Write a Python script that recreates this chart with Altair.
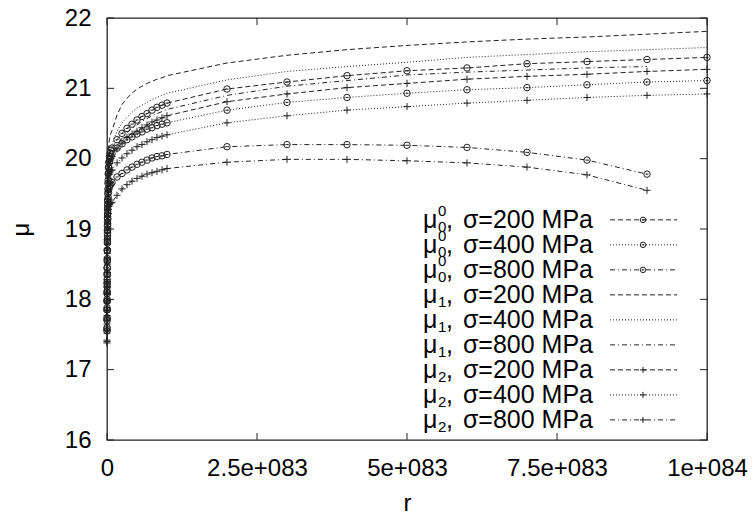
import altair as alt
import pandas as pd

# r values (axis shows r in units of 1e83)
x_tiny = [0.0, 0.0005, 0.001, 0.0015, 0.002, 0.0025, 0.003, 0.0035, 0.004, 0.005, 0.006, 0.007,
          0.008, 0.009, 0.010, 0.0115, 0.013, 0.016, 0.02, 0.025, 0.03, 0.04, 0.05, 0.065]
x_near = [0.083, 0.167, 0.25, 0.333, 0.417, 0.5, 0.583, 0.667, 0.75, 0.833, 0.917, 1.0]
x_far = [2, 3, 4, 5, 6, 7, 8, 9, 10]
x_far9 = [2, 3, 4, 5, 6, 7, 8, 9]

mu0_200 = [17.55, 17.70, 17.85, 17.98, 18.10, 18.22, 18.35, 18.45, 18.55, 18.70, 18.85, 18.98,
           19.10, 19.20, 19.30, 19.40, 19.50, 19.65, 19.78, 19.88, 19.95, 20.03, 20.08, 20.12,
           20.15, 20.27, 20.36, 20.43, 20.49, 20.55, 20.60, 20.64, 20.69, 20.73, 20.76, 20.79,
           20.99, 21.09, 21.18, 21.25, 21.29, 21.35, 21.38, 21.41, 21.44]
mu0_400 = [17.60, 17.74, 17.88, 18.00, 18.12, 18.24, 18.35, 18.45, 18.55, 18.69, 18.82, 18.94,
           19.05, 19.15, 19.25, 19.34, 19.42, 19.57, 19.70, 19.80, 19.87, 19.95, 20.00, 20.03,
           20.07, 20.15, 20.21, 20.27, 20.31, 20.35, 20.38, 20.42, 20.44, 20.47, 20.49, 20.51,
           20.69, 20.80, 20.87, 20.93, 20.98, 21.01, 21.05, 21.09, 21.11]
mu0_800 = [17.58, 17.72, 17.85, 17.97, 18.08, 18.18, 18.28, 18.37, 18.45, 18.58, 18.70, 18.80,
           18.90, 18.99, 19.07, 19.15, 19.22, 19.35, 19.45, 19.52, 19.56, 19.60, 19.62, 19.64,
           19.66, 19.74, 19.79, 19.84, 19.88, 19.92, 19.95, 19.98, 20.01, 20.03, 20.04, 20.06,
           20.17, 20.20, 20.20, 20.19, 20.16, 20.09, 19.98, 19.78]
mu1_200 = [17.50, 17.70, 17.90, 18.08, 18.25, 18.40, 18.55, 18.68, 18.80, 18.98, 19.15, 19.30,
           19.45, 19.55, 19.65, 19.75, 19.85, 19.98, 20.08, 20.15, 20.20, 20.27, 20.32, 20.36,
           20.40, 20.62, 20.77, 20.86, 20.93, 20.99, 21.03, 21.07, 21.10, 21.13, 21.15, 21.18,
           21.36, 21.47, 21.55, 21.61, 21.66, 21.70, 21.73, 21.77, 21.81]
mu1_400 = [17.52, 17.70, 17.88, 18.03, 18.18, 18.32, 18.45, 18.57, 18.68, 18.84, 19.00, 19.13,
           19.25, 19.35, 19.45, 19.54, 19.62, 19.75, 19.86, 19.95, 20.01, 20.08, 20.13, 20.17,
           20.20, 20.39, 20.51, 20.59, 20.66, 20.72, 20.76, 20.80, 20.84, 20.87, 20.90, 20.93,
           21.12, 21.24, 21.31, 21.37, 21.44, 21.48, 21.52, 21.55, 21.58]
mu1_800 = [17.55, 17.72, 17.88, 18.02, 18.15, 18.28, 18.40, 18.50, 18.60, 18.75, 18.90, 19.03,
           19.15, 19.25, 19.35, 19.44, 19.52, 19.66, 19.78, 19.87, 19.93, 19.98, 20.01, 20.03,
           20.05, 20.19, 20.29, 20.37, 20.43, 20.48, 20.53, 20.57, 20.61, 20.64, 20.67, 20.70,
           20.90, 21.03, 21.11, 21.19, 21.23, 21.26, 21.29, 21.31]
mu2_200 = [17.40, 17.56, 17.72, 17.85, 17.98, 18.10, 18.22, 18.32, 18.42, 18.57, 18.72, 18.85,
           18.98, 19.08, 19.18, 19.28, 19.38, 19.53, 19.67, 19.78, 19.85, 19.93, 19.97, 20.00,
           20.03, 20.14, 20.22, 20.30, 20.35, 20.39, 20.44, 20.48, 20.52, 20.55, 20.58, 20.61,
           20.81, 20.92, 21.01, 21.07, 21.13, 21.17, 21.20, 21.24, 21.27]
mu2_400 = [17.42, 17.56, 17.70, 17.83, 17.95, 18.07, 18.18, 18.28, 18.38, 18.52, 18.65, 18.78,
           18.90, 18.99, 19.08, 19.18, 19.27, 19.42, 19.55, 19.65, 19.72, 19.78, 19.81, 19.83,
           19.84, 19.94, 20.01, 20.07, 20.12, 20.17, 20.20, 20.24, 20.27, 20.30, 20.32, 20.34,
           20.51, 20.61, 20.69, 20.74, 20.79, 20.83, 20.87, 20.90, 20.92]
mu2_800 = [17.38, 17.52, 17.65, 17.77, 17.88, 17.98, 18.08, 18.17, 18.25, 18.38, 18.50, 18.60,
           18.70, 18.79, 18.87, 18.95, 19.02, 19.13, 19.22, 19.28, 19.32, 19.35, 19.36, 19.37,
           19.38, 19.48, 19.57, 19.63, 19.68, 19.72, 19.75, 19.78, 19.80, 19.82, 19.84, 19.86,
           19.95, 19.99, 19.99, 19.97, 19.94, 19.88, 19.77, 19.55]

series_names = ["mu0_200", "mu0_400", "mu0_800", "mu1_200", "mu1_400", "mu1_800", "mu2_200", "mu2_400", "mu2_800"]
series_vals = [mu0_200, mu0_400, mu0_800, mu1_200, mu1_400, mu1_800, mu2_200, mu2_400, mu2_800]
series_marker = ["circle", "circle", "circle", "none", "none", "none", "plus", "plus", "plus"]
leg_sup = ["0", "0", "0", "", "", "", "", "", ""]
leg_sub = ["0", "0", "0", "1", "1", "1", "2", "2", "2"]
leg_rest = ["σ=200 MPa", "σ=400 MPa", "σ=800 MPa"] * 3

x_tick_vals = [0, 2.5, 5, 7.5, 10]
x_tick_labels = ["0", "2.5e+083", "5e+083", "7.5e+083", "1e+084"]
y_tick_vals = [16, 17, 18, 19, 20, 21, 22]

# styles
dash_200 = [5, 3]
dash_400 = [1, 2]
dash_800 = [5, 3, 1, 3]
dash_list = [dash_200, dash_400, dash_800] * 3
FONT = "Liberation Sans"
INK = "#222222"
PLUS = "M-1,0L1,0M0,-1L0,1"
BAR = "M-1,0L1,0"

rows = []
for name, vals, mk in zip(series_names, series_vals, series_marker):
    xs = x_tiny + x_near + (x_far if len(vals) == len(x_tiny) + len(x_near) + len(x_far) else x_far9)
    for xv, yv in zip(xs, vals):
        rows.append({"series": name, "x": xv, "y": yv, "mk": mk})
df = pd.DataFrame(rows)

# legend rows (y expressed on the mu scale)
leg_y = [19.13 - 0.3555 * i for i in range(9)]
df_leg = pd.DataFrame({"series": series_names, "ly": leg_y, "sup": leg_sup, "sub": leg_sub,
                       "rest": leg_rest, "mk": series_marker})

label_expr = " : ".join(f"datum.value == {v} ? '{l}'" for v, l in zip(x_tick_vals, x_tick_labels)) + " : ''"

xscale = alt.Scale(domain=[0, 10], nice=False, zero=False)
yscale = alt.Scale(domain=[16, 22], nice=False, zero=False)
dash_scale = alt.Scale(domain=series_names, range=dash_list)

AFS = 24
x_axis = alt.Axis(values=x_tick_vals, labelExpr=label_expr, ticks=False, domain=False, grid=False,
                  labelFont=FONT, labelFontSize=AFS, labelColor="black", labelPadding=35,
                  labelBaseline="alphabetic", labelOverlap=False, labelFlush=False, labelBound=False,
                  title="r", titleFont=FONT, titleFontSize=AFS, titleFontWeight="normal", titleColor="black",
                  titleX=300, titleY=70, titleBaseline="alphabetic", titleAlign="center")
y_axis = alt.Axis(values=y_tick_vals, ticks=False, domain=False, grid=False,
                  labelFont=FONT, labelFontSize=AFS, labelColor="black", labelPadding=16,
                  labelOverlap=False, labelBound=False, labelFlush=False,
                  title="μ", titleFont=FONT, titleFontSize=AFS, titleFontWeight="normal", titleColor="black",
                  titleX=-79, titleY=211, titleBaseline="alphabetic", titleAlign="center", titleAngle=270)


def X(f):
    return alt.X(f, scale=xscale, axis=x_axis)


def Y(f):
    return alt.Y(f, scale=yscale, axis=y_axis)


lines = alt.Chart(df).mark_line(strokeWidth=1, color=INK).encode(
    x=X("x:Q"), y=Y("y:Q"),
    strokeDash=alt.StrokeDash("series:N", scale=dash_scale, legend=None),
    detail="series:N",
)
circ = alt.Chart(df).transform_filter("datum.mk == 'circle'").mark_point(
    shape="circle", filled=False, size=42, strokeWidth=1, color=INK, opacity=1).encode(x=X("x:Q"), y=Y("y:Q"))
bars = alt.Chart(df).transform_filter("datum.mk == 'circle'").mark_point(
    shape=BAR, filled=False, size=9, strokeWidth=1, color=INK, opacity=1).encode(x=X("x:Q"), y=Y("y:Q"))
plus = alt.Chart(df).transform_filter("datum.mk == 'plus'").mark_point(
    shape=PLUS, filled=False, size=50, strokeWidth=1, color=INK, opacity=1).encode(x=X("x:Q"), y=Y("y:Q"))

# inward ticks (gnuplot style), mirrored on all four sides
dfx = pd.DataFrame({"x": x_tick_vals})
dfy = pd.DataFrame({"y": y_tick_vals})
tick_style = dict(color=INK, strokeWidth=1)
tb = alt.Chart(dfx).mark_rule(**tick_style).encode(x=X("x:Q"), y=alt.value(422), y2=alt.value(415))
tt = alt.Chart(dfx).mark_rule(**tick_style).encode(x=X("x:Q"), y=alt.value(0), y2=alt.value(7))
tl = alt.Chart(dfy).mark_rule(**tick_style).encode(y=Y("y:Q"), x=alt.value(0), x2=alt.value(7))
tr = alt.Chart(dfy).mark_rule(**tick_style).encode(y=Y("y:Q"), x=alt.value(600), x2=alt.value(593))

# legend
LFS = 25
leg_line = alt.Chart(df_leg).mark_rule(strokeWidth=1, color=INK).encode(
    x=alt.value(503), x2=alt.value(570), y=Y("ly:Q"),
    strokeDash=alt.StrokeDash("series:N", scale=dash_scale, legend=None))
leg_circ = alt.Chart(df_leg).transform_filter("datum.mk == 'circle'").mark_point(
    shape="circle", filled=False, size=30, strokeWidth=1, color=INK, opacity=1).encode(
    x=alt.value(536), y=Y("ly:Q"))
leg_bar = alt.Chart(df_leg).transform_filter("datum.mk == 'circle'").mark_point(
    shape=BAR, filled=False, size=6, strokeWidth=1, color=INK, opacity=1).encode(
    x=alt.value(536), y=Y("ly:Q"))
leg_plus = alt.Chart(df_leg).transform_filter("datum.mk == 'plus'").mark_point(
    shape=PLUS, filled=False, size=36, strokeWidth=1, color=INK, opacity=1).encode(
    x=alt.value(536), y=Y("ly:Q"))
leg_mu = alt.Chart(df_leg).mark_text(align="left", baseline="middle", font=FONT, fontSize=LFS, color="black").encode(
    x=alt.value(316), y=Y("ly:Q"), text=alt.value("μ"))
leg_sub_t = alt.Chart(df_leg).mark_text(align="left", baseline="middle", font=FONT, fontSize=15, color="black", dy=7).encode(
    x=alt.value(331), y=Y("ly:Q"), text="sub:N")
leg_sup_t = alt.Chart(df_leg).mark_text(align="left", baseline="middle", font=FONT, fontSize=15, color="black", dy=-9).encode(
    x=alt.value(331), y=Y("ly:Q"), text="sup:N")
leg_comma = alt.Chart(df_leg).mark_text(align="left", baseline="middle", font=FONT, fontSize=LFS, color="black").encode(
    x=alt.value(339), y=Y("ly:Q"), text=alt.value(","))
leg_rest_t = alt.Chart(df_leg).mark_text(align="right", baseline="middle", font=FONT, fontSize=LFS, color="black").encode(
    x=alt.value(486), y=Y("ly:Q"), text="rest:N")

chart = alt.layer(
    lines, circ, bars, plus, tb, tt, tl, tr,
    leg_line, leg_circ, leg_bar, leg_plus, leg_mu, leg_sub_t, leg_sup_t, leg_comma, leg_rest_t,
).properties(
    width=600, height=422,
    autosize=alt.AutoSizeParams(type="none"),
    padding={"left": 99, "top": 10, "right": 41, "bottom": 78},
    background="white",
).configure_view(stroke=INK, strokeWidth=1.3)

chart.save("out.html", embed_options={"renderer": "svg", "actions": False})
